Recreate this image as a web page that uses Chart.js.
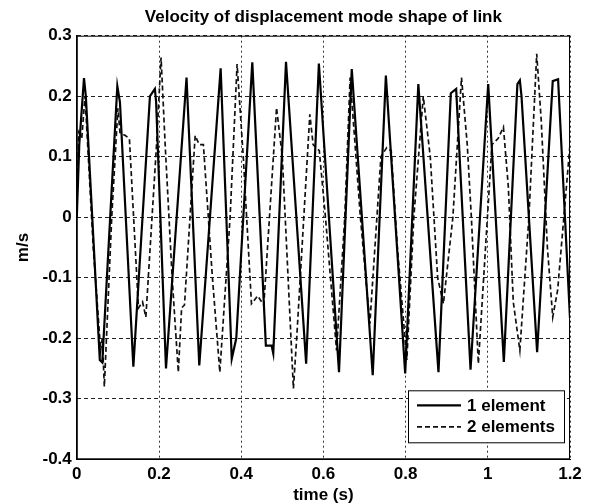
<!DOCTYPE html>
<html>
<head>
<meta charset="utf-8">
<title>Velocity of displacement mode shape of link</title>
<script src="https://cdn.jsdelivr.net/npm/chart.js@4.4.1/dist/chart.umd.min.js"></script>
<style>
  html, body { margin: 0; padding: 0; background: #fff; }
  canvas { display: block; }
</style>
</head>
<body>
<canvas id="velChart" width="594" height="504"></canvas>
<script>
// time (s) and velocity (m/s)
const time1 = [0, 0.006, 0.0175, 0.022, 0.056, 0.062, 0.0986, 0.105, 0.1376, 0.178, 0.19, 0.193, 0.217,
  0.267, 0.298, 0.35, 0.377, 0.388, 0.427, 0.46, 0.474, 0.478, 0.509, 0.558, 0.589, 0.638, 0.669,
  0.72, 0.752, 0.799, 0.831, 0.88, 0.91, 0.923, 0.958, 1.001, 1.039, 1.072, 1.078, 1.082, 1.12,
  1.158, 1.171, 1.2];
const vel1 = [0, 0.12, 0.23, 0.2, -0.236, -0.24, 0.217, 0.19, -0.247, 0.2, 0.212, 0.19, -0.25,
  0.231, -0.245, 0.246, -0.234, -0.2, 0.256, -0.212, -0.212, -0.225, 0.257, -0.242, 0.254, -0.256, 0.245,
  -0.261, 0.234, -0.258, 0.22, -0.256, 0.205, 0.212, -0.252, 0.22, -0.239, 0.22, 0.226, 0.2, -0.223,
  0.225, 0.228, -0.167];

const time2 = [0, 0.005, 0.012, 0.02, 0.04, 0.058, 0.062, 0.067, 0.085, 0.1, 0.105, 0.118, 0.128,
  0.15, 0.16, 0.168, 0.194, 0.205, 0.215, 0.232, 0.247, 0.255, 0.262, 0.288, 0.298, 0.308, 0.33,
  0.348, 0.373, 0.39, 0.405, 0.425, 0.44, 0.455, 0.486, 0.5, 0.527, 0.535, 0.567, 0.575, 0.59,
  0.605, 0.632, 0.652, 0.665, 0.69, 0.713, 0.74, 0.754, 0.765, 0.78, 0.803, 0.82, 0.843, 0.86,
  0.878, 0.892, 0.915, 0.936, 0.95, 0.96, 0.977, 1.01, 1.025, 1.038, 1.05, 1.062, 1.078, 1.1,
  1.119, 1.13, 1.145, 1.158, 1.17, 1.2];
const vel2 = [0.02, 0.14, 0.13, 0.2, -0.05, -0.22, -0.2, -0.28, 0, 0.18, 0.14, 0.135, 0.13,
  -0.15, -0.14, -0.165, 0.12, 0.264, 0.12, -0.1, -0.256, -0.15, -0.145, 0.135, 0.12, 0.12, -0.1,
  -0.256, 0, 0.253, 0.1, -0.143, -0.13, -0.145, 0.181, 0.1, -0.283, -0.2, 0.17, 0.12, 0.11,
  0, -0.22, 0, 0.231, 0, -0.176, 0.1, 0.115, 0.11, -0.05, -0.236, 0, 0.2, 0.1,
  -0.1, -0.143, 0, 0.231, 0.12, 0, -0.242, 0.12, 0.13, 0.149, 0.05, -0.14, -0.22, 0,
  0.27, 0.16, -0.05, -0.165, -0.12, 0.12];

const seriesNames = ['1 element', '2 elements'];
const xTicks = [0, 0.2, 0.4, 0.6, 0.8, 1, 1.2];
const yTicks = [-0.4, -0.3, -0.2, -0.1, 0, 0.1, 0.2, 0.3];

const toPoints = (xs, ys) => xs.map((x, i) => ({ x: x, y: ys[i] }));
const font = { family: '"Liberation Sans", Arial, sans-serif', size: 17, weight: 'bold' };

// box round the plot plus a MATLAB style legend in the lower right
const boxAndLegend = {
  id: 'boxAndLegend',
  afterDraw(chart) {
    const { ctx, chartArea: a } = chart;
    ctx.save();
    ctx.strokeStyle = '#000';
    ctx.lineWidth = 1;
    ctx.setLineDash([]);
    ctx.strokeRect(a.left + 0.5, a.top + 0.5, a.right - a.left - 1, a.bottom - a.top - 1);

    const w = 156, h = 52;
    const lx = a.right - 6 - w, ly = a.bottom - 17 - h;
    ctx.fillStyle = '#fff';
    ctx.fillRect(lx, ly, w, h);
    ctx.strokeRect(lx + 0.5, ly + 0.5, w, h);
    ctx.font = 'bold 17px "Liberation Sans", Arial, sans-serif';
    ctx.textBaseline = 'middle';
    chart.data.datasets.forEach((ds, i) => {
      const y = ly + 15 + i * 21.5;
      ctx.strokeStyle = ds.borderColor;
      ctx.lineWidth = ds.borderWidth;
      ctx.setLineDash(ds.borderDash || []);
      ctx.beginPath();
      ctx.moveTo(lx + 9, y);
      ctx.lineTo(lx + 53, y);
      ctx.stroke();
      ctx.setLineDash([]);
      ctx.fillStyle = '#000';
      ctx.fillText(ds.label, lx + 59, y + 1);
    });
    ctx.restore();
  }
};

new Chart(document.getElementById('velChart'), {
  type: 'line',
  data: {
    datasets: [
      {
        label: seriesNames[0],
        data: toPoints(time1, vel1),
        borderColor: '#000',
        borderWidth: 2.2,
        pointRadius: 0,
        tension: 0
      },
      {
        label: seriesNames[1],
        data: toPoints(time2, vel2),
        borderColor: '#111',
        borderWidth: 1.7,
        borderDash: [5, 3],
        pointRadius: 0,
        tension: 0
      }
    ]
  },
  options: {
    responsive: false,
    animation: false,
    devicePixelRatio: 1,
    layout: { padding: { left: 0, right: 24, top: 0, bottom: 0 } },
    plugins: {
      legend: { display: false },
      tooltip: { enabled: false },
      title: {
        display: true,
        fullSize: false,
        text: 'Velocity of displacement mode shape of link',
        color: '#000',
        font: font,
        padding: { top: 7, bottom: 8.3 }
      }
    },
    scales: {
      x: {
        type: 'linear',
        min: 0,
        max: 1.2,
        afterBuildTicks: s => { s.ticks = xTicks.map(v => ({ value: v })); },
        afterFit: s => { s.height = 44.7; },
        ticks: { color: '#000', font: font, padding: 4.5, maxRotation: 0, callback: v => String(v) },
        grid: { color: '#333', lineWidth: 1, drawTicks: false },
        border: { display: true, color: '#000', dash: [2, 3] },
        title: { display: true, text: 'time (s)', color: '#000', font: font, padding: { top: 0, bottom: -2 } }
      },
      y: {
        min: -0.4,
        max: 0.3,
        afterBuildTicks: s => { s.ticks = yTicks.map(v => ({ value: v })); },
        afterFit: s => { s.width = 76.8; },
        ticks: { color: '#000', font: font, padding: 5, callback: v => String(v) },
        grid: { color: '#222', lineWidth: 1, drawTicks: false },
        border: { display: true, color: '#000', dash: [4, 3] },
        title: { display: true, text: 'm/s', color: '#000', font: font, padding: { top: 13, bottom: 0 } }
      }
    }
  },
  plugins: [boxAndLegend]
});
</script>
</body>
</html>
